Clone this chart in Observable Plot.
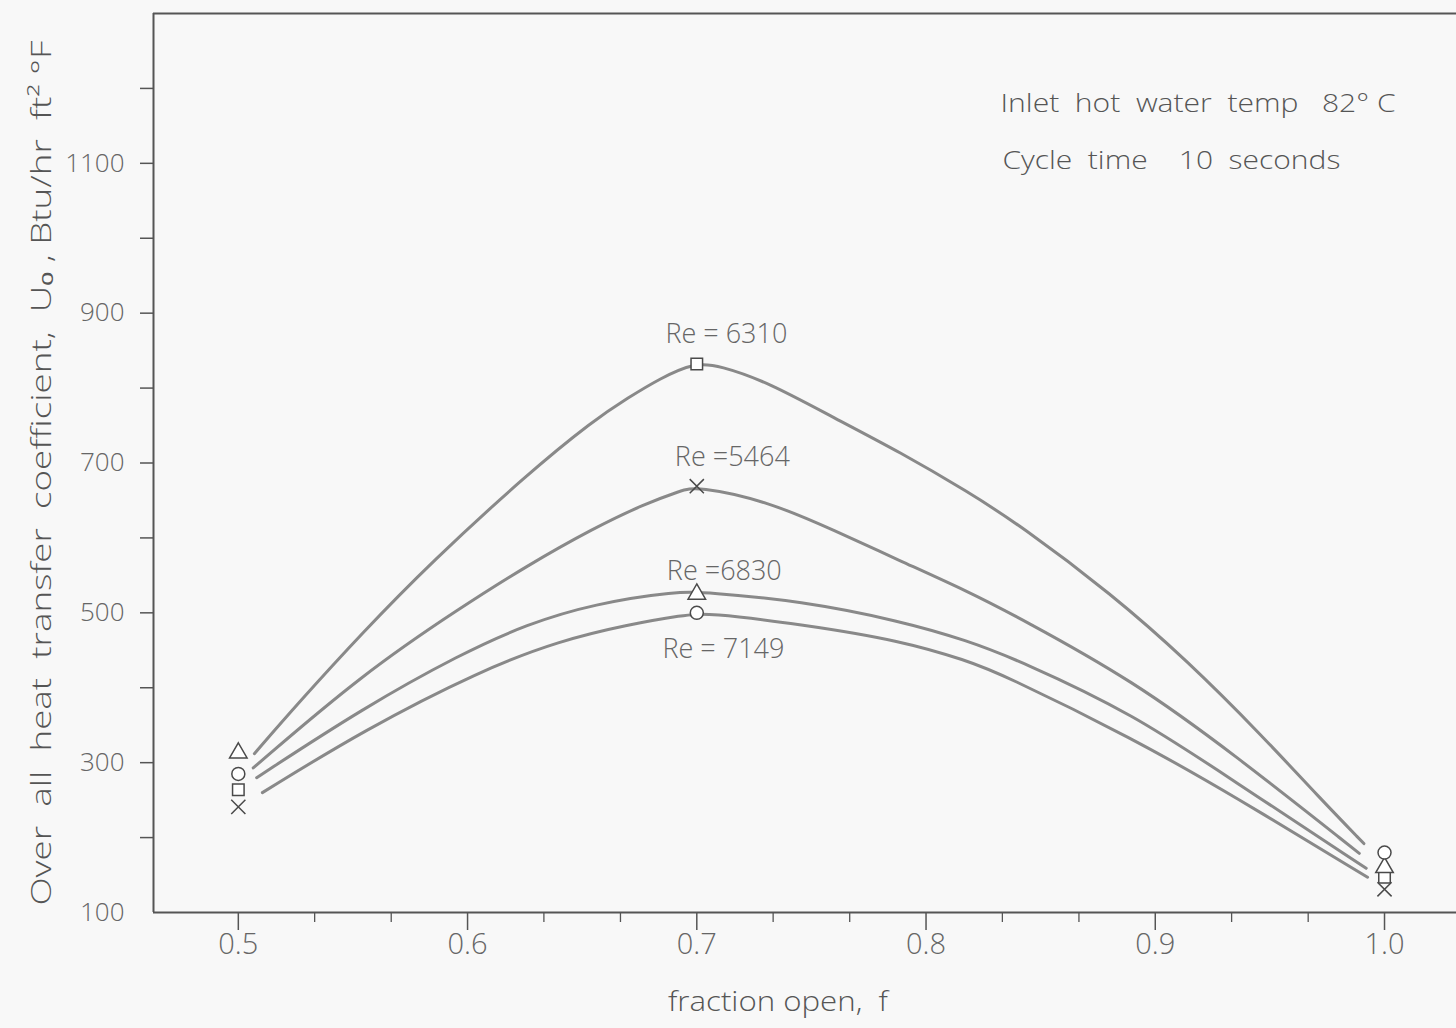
<!DOCTYPE html>
<html>
<head>
<meta charset="utf-8">
<script src="https://cdn.jsdelivr.net/npm/d3@7"></script>
<script src="https://cdn.jsdelivr.net/npm/@observablehq/plot@0.6"></script>
<style>
  html, body { margin: 0; padding: 0; background: #f8f8f8; }
  #chart svg { display: block; }
</style>
</head>
<body>
<div id="chart"></div>
<script>
// ---- Data ----
const series = ["6310", "5464", "6830", "7149"];
const seriesSymbols = ["square", "times", "triangle", "circle"];

// plotted points (markers) at f = 0.5, 0.7, 1.0
const markerF = [0.5, 0.7, 1.0];
const markerU6310 = [264, 832, 147];
const markerU5464 = [241, 669, 131];
const markerU6830 = [313, 525, 160];
const markerU7149 = [285, 500, 180];

// hand-drawn curves, read along their length
const curveF6310 = [0.507, 0.526, 0.554, 0.584, 0.626, 0.655, 0.670, 0.684, 0.699, 0.710, 0.731, 0.760, 0.789, 0.818, 0.841, 0.881, 0.914, 0.946, 0.972, 0.991];
const curveU6310 = [312, 379, 473, 567, 685, 757, 787, 813, 834, 830, 808, 760, 714, 662, 617, 525, 436, 338, 252, 192];

const curveF5464 = [0.5065, 0.5545, 0.597, 0.626, 0.655, 0.677, 0.693, 0.700, 0.731, 0.760, 0.789, 0.818, 0.841, 0.8905, 0.934, 0.989];
const curveU5464 = [293, 419, 507, 563, 613, 645, 663, 669, 649, 610, 569, 529, 493, 409, 312, 179];

const curveF6830 = [0.508, 0.5545, 0.597, 0.626, 0.655, 0.6915, 0.7046, 0.745, 0.789, 0.818, 0.841, 0.8905, 0.934, 0.992];
const curveU6830 = [280, 373, 445, 485, 512, 529, 527, 516, 489, 463, 436, 365, 276, 159];

const curveF7149 = [0.5105, 0.5545, 0.6056, 0.6405, 0.6697, 0.6942, 0.7046, 0.745, 0.789, 0.818, 0.8325, 0.8905, 0.934, 0.9926];
const curveU7149 = [260, 343, 423, 463, 484, 497, 500, 485, 463, 436, 419, 332, 256, 147];

// curve labels
const reLabels = ["Re = 6310", "Re =5464", "Re =6830", "Re = 7149"];
const reLabelF = [0.7129, 0.7155, 0.712, 0.7116];
const reLabelU = [872, 708, 556, 451];

// notes in the upper right
const notes = ["Inlet\u00a0\u00a0hot\u00a0\u00a0water\u00a0\u00a0temp\u00a0\u00a0 82\u00b0 C", "Cycle\u00a0\u00a0time\u00a0\u00a0\u00a0 10\u00a0\u00a0seconds"];
const noteF = [0.8325, 0.8333];
const noteU = [1179, 1103];

// axes
const xDomain = [0.463, 1.0314];
const yDomain = [100, 1300];
const xMajorTicks = [0.5, 0.6, 0.7, 0.8, 0.9, 1.0];
const xMinorTicks = [0.5333, 0.5667, 0.6333, 0.6667, 0.7333, 0.7667, 0.8333, 0.8667, 0.9333, 0.9667];
const yTicks = [200, 300, 400, 500, 600, 700, 800, 900, 1000, 1100, 1200];
const yTickLabels = [100, 300, 500, 700, 900, 1100];
const xLabel = "fraction open,  f";
const yLabel = "Over  all  heat  transfer  coefficient,  U\u2092 , Btu/hr  ft\u00b2 \u00b0F";

// ---- Build tables ----
const markerU = {"6310": markerU6310, "5464": markerU5464, "6830": markerU6830, "7149": markerU7149};
const curveF = {"6310": curveF6310, "5464": curveF5464, "6830": curveF6830, "7149": curveF7149};
const curveU = {"6310": curveU6310, "5464": curveU5464, "6830": curveU6830, "7149": curveU7149};

const markerRows = series.flatMap(s => markerF.map((f, i) => ({series: s, f, u: markerU[s][i]})));
const curveRows = series.flatMap(s => curveF[s].map((f, i) => ({series: s, f, u: curveU[s][i]})));
const labelRows = reLabels.map((t, i) => ({text: t, f: reLabelF[i], u: reLabelU[i]}));
const noteRows = notes.map((t, i) => ({text: t, f: noteF[i], u: noteU[i]}));

const ink = "#555";
const font = "'Open Sans', 'DejaVu Sans', sans-serif";

const chart = Plot.plot({
  width: 1456,
  height: 1028,
  marginLeft: 153,
  marginRight: 0,
  marginTop: 13,
  marginBottom: 116,
  style: {fontFamily: font, color: ink, background: "#f8f8f8", fontWeight: 300},
  x: {domain: xDomain},
  y: {domain: yDomain},
  symbol: {domain: series, range: seriesSymbols},
  marks: [
    // frame
    Plot.ruleX([xDomain[0]], {stroke: ink, strokeWidth: 2}),
    Plot.ruleY([yDomain[0], yDomain[1]], {stroke: ink, strokeWidth: 2}),
    // y axis
    Plot.axisY({ticks: yTicks, tickSize: 13, tickFormat: () => "", label: null, stroke: ink, strokeWidth: 1.5}),
    Plot.axisY({ticks: yTickLabels, tickSize: 0, tickPadding: 29, tickFormat: d3.format("d"), label: null, fontSize: 26, fill: "#666"}),
    // x axis
    Plot.axisX({ticks: xMajorTicks, tickSize: 18, tickFormat: () => "", label: null, stroke: ink, strokeWidth: 1.5}),
    Plot.axisX({ticks: xMinorTicks, tickSize: 10, tickFormat: () => "", label: null, stroke: ink, strokeWidth: 1.3}),
    Plot.axisX({ticks: xMajorTicks, tickSize: 0, tickPadding: 21, tickFormat: d3.format(".1f"), label: null, fontSize: 29, fill: "#666"}),
    // curves
    Plot.line(curveRows, {x: "f", y: "u", z: "series", curve: "basis", stroke: "#7c7c7c", strokeWidth: 3, strokeOpacity: 0.9}),
    // markers
    Plot.dot(markerRows, {x: "f", y: "u", symbol: "series", r: 6.5, stroke: "#4a4a4a", strokeWidth: 1.5, fill: "white"}),
    // labels
    Plot.text(labelRows, {x: "f", y: "u", text: "text", fontSize: 27, fill: "#666"}),
    Plot.text(noteRows, {x: "f", y: "u", text: "text", textAnchor: "start", fontSize: 25, fill: "#555"}),
    Plot.text([xLabel], {frameAnchor: "bottom", dx: -27, dy: 98, fontSize: 27, fill: "#555"}),
    Plot.text([yLabel], {frameAnchor: "left", textAnchor: "middle", rotate: -90, dx: -111, dy: 10, fontSize: 28, fill: "#555"})
  ]
});

// stretch the lettering to the widths it has in the reference
const fitWidths = new Map([
  [yLabel, 865],
  [xLabel, 220],
  [notes[0], 395],
  [notes[1], 338]
]);
d3.select(chart).selectAll("text").each(function() {
  const w = fitWidths.get(this.textContent);
  if (w) this.setAttribute("textLength", w), this.setAttribute("lengthAdjust", "spacingAndGlyphs");
});

document.getElementById("chart").appendChild(chart);
</script>
</body>
</html>
